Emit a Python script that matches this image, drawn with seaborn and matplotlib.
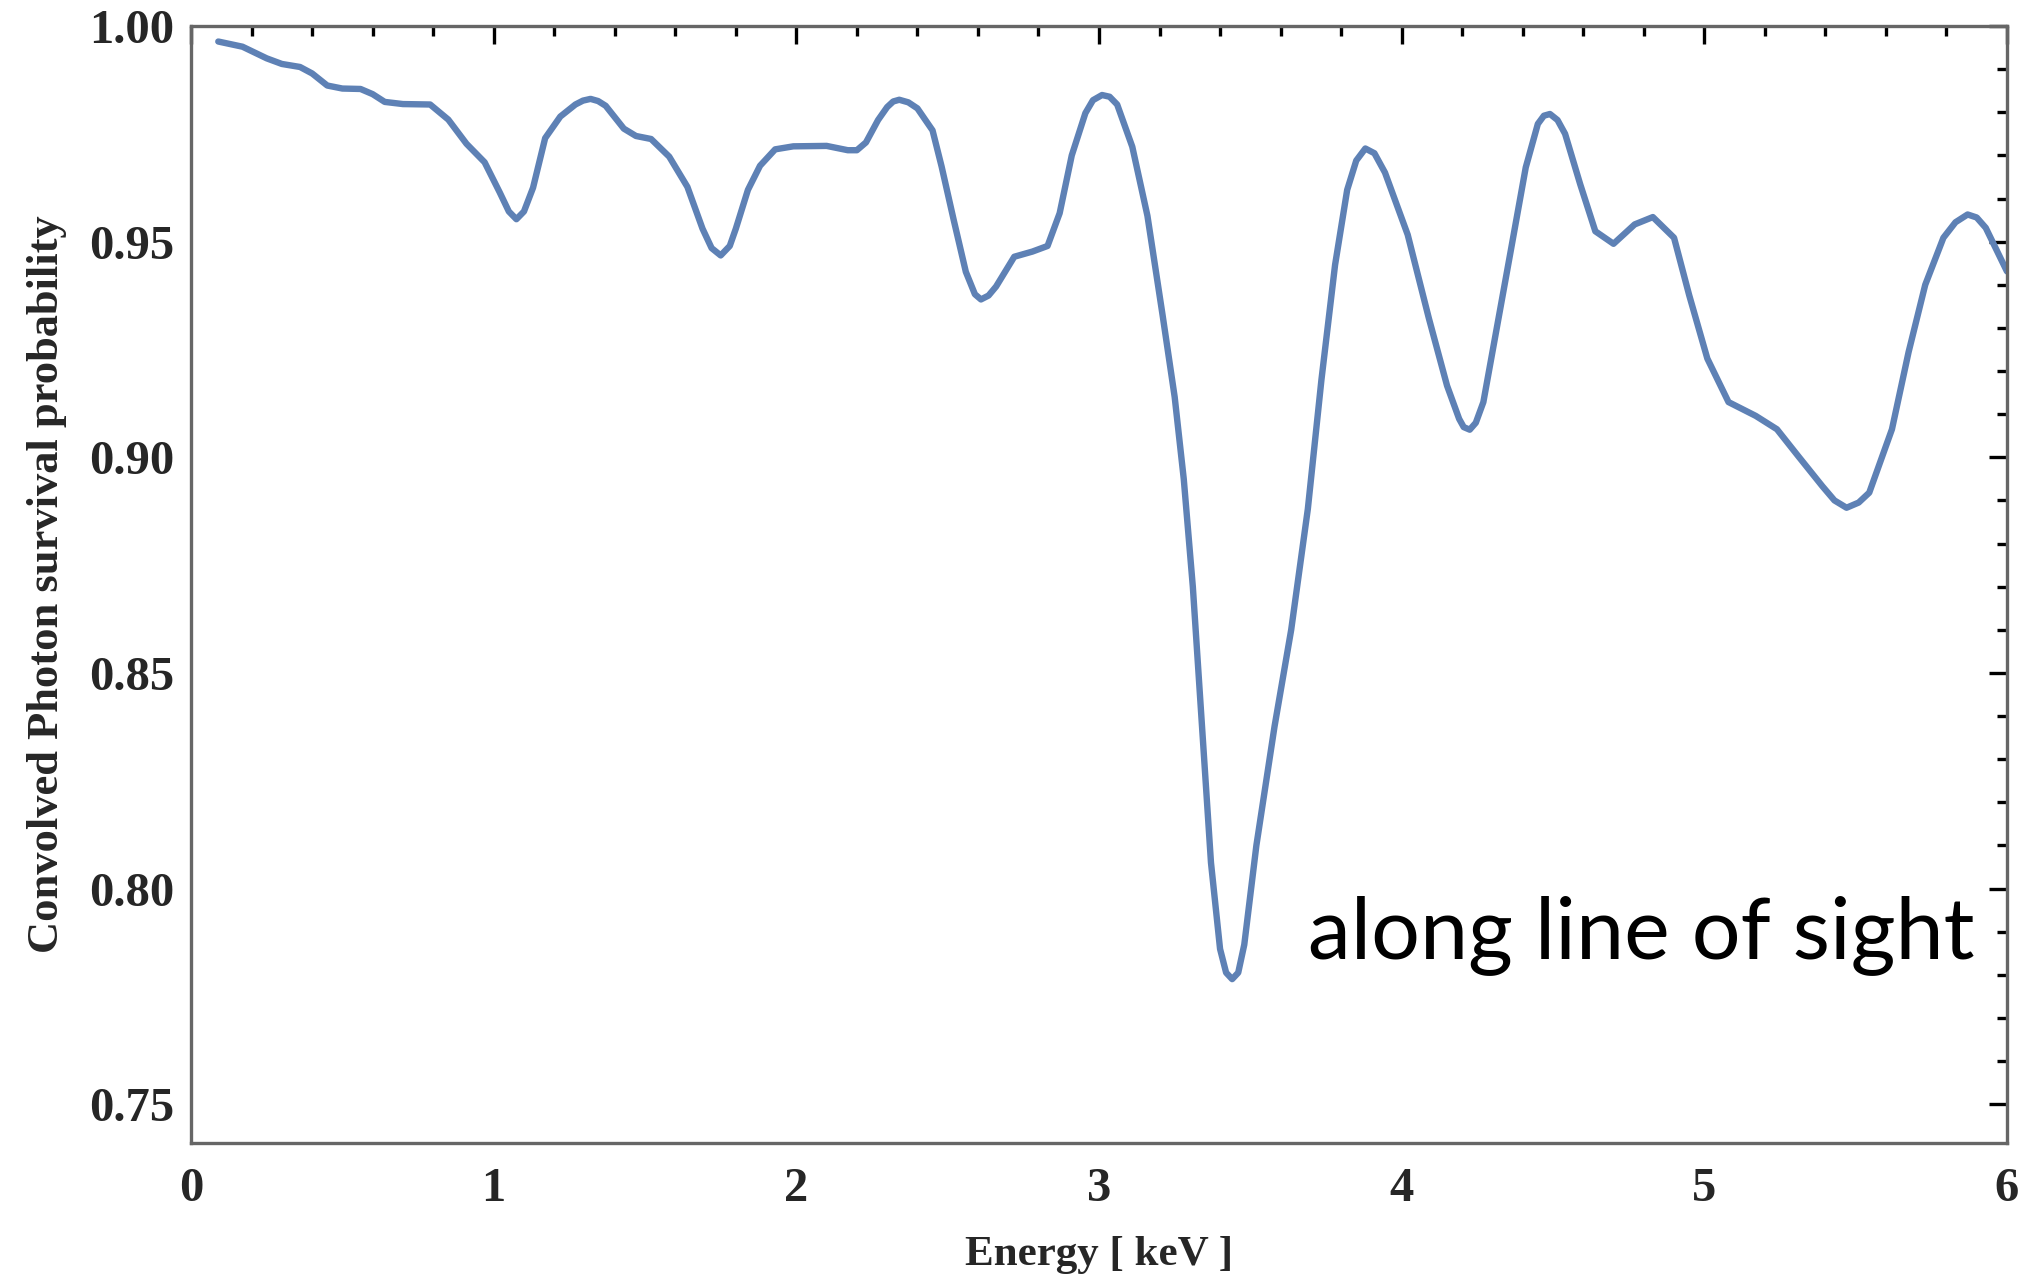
import numpy as np
import pandas as pd
import matplotlib
matplotlib.use("Agg")
import matplotlib.pyplot as plt
from matplotlib.ticker import MultipleLocator, FormatStrFormatter
import seaborn as sns

# ---- data ----
energy_kev = [0.09, 0.17, 0.25, 0.30, 0.36, 0.40, 0.45, 0.50, 0.56, 0.60, 0.64, 0.70, 0.79,
              0.85, 0.91, 0.97, 1.02, 1.05, 1.075, 1.10, 1.13, 1.17, 1.22, 1.27, 1.295, 1.32,
              1.345, 1.37, 1.43, 1.47, 1.52, 1.58, 1.64, 1.69, 1.72, 1.75, 1.78, 1.80, 1.84,
              1.88, 1.93, 1.99, 2.10, 2.17, 2.20, 2.23, 2.27, 2.30, 2.32, 2.34, 2.37, 2.40,
              2.45, 2.48, 2.52, 2.56, 2.59, 2.61, 2.635, 2.66, 2.72, 2.78, 2.83, 2.87, 2.91,
              2.955, 2.98, 3.01, 3.035, 3.06, 3.11, 3.16, 3.21, 3.25, 3.28, 3.31, 3.34, 3.37,
              3.40, 3.42, 3.44, 3.46, 3.48, 3.52, 3.58, 3.635, 3.69, 3.735, 3.78, 3.82, 3.85,
              3.88, 3.91, 3.945, 4.02, 4.09, 4.15, 4.19, 4.205, 4.225, 4.245, 4.27, 4.31, 4.36,
              4.41, 4.45, 4.47, 4.49, 4.515, 4.54, 4.59, 4.64, 4.70, 4.77, 4.83, 4.90, 4.95,
              5.01, 5.08, 5.17, 5.24, 5.31, 5.39, 5.43, 5.47, 5.51, 5.545, 5.62, 5.675, 5.73,
              5.79, 5.83, 5.87, 5.90, 5.93, 6.00]
survival_prob = [0.9964, 0.9952, 0.9925, 0.9912, 0.9905, 0.9890, 0.9862, 0.9855, 0.9854, 0.9842,
                 0.9824, 0.9819, 0.9818, 0.9783, 0.9727, 0.9684, 0.9614, 0.9570, 0.9552, 0.9570,
                 0.9625, 0.9740, 0.9790, 0.9818, 0.9827, 0.9831, 0.9826, 0.9815, 0.9762, 0.9745,
                 0.9738, 0.9697, 0.9627, 0.9530, 0.9485, 0.9468, 0.9490, 0.9530, 0.9620, 0.9676,
                 0.9714, 0.9721, 0.9722, 0.9712, 0.9712, 0.9730, 0.9782, 0.9812, 0.9825, 0.9829,
                 0.9823, 0.9809, 0.9758, 0.9674, 0.9550, 0.9430, 0.9378, 0.9366, 0.9375, 0.9396,
                 0.9465, 0.9477, 0.9490, 0.9566, 0.9700, 0.9798, 0.9828, 0.9840, 0.9836, 0.9818,
                 0.9720, 0.9560, 0.9330, 0.9140, 0.8950, 0.8700, 0.8380, 0.8060, 0.7860, 0.7805,
                 0.7790, 0.7805, 0.7870, 0.8100, 0.8376, 0.8600, 0.8880, 0.9180, 0.9446, 0.9620,
                 0.9688, 0.9716, 0.9705, 0.9660, 0.9516, 0.9322, 0.9166, 0.9089, 0.9070, 0.9064,
                 0.9080, 0.9128, 0.9283, 0.9477, 0.9672, 0.9773, 0.9792, 0.9796, 0.9782, 0.9750,
                 0.9633, 0.9524, 0.9495, 0.9540, 0.9557, 0.9509, 0.9376, 0.9229, 0.9128, 0.9096,
                 0.9065, 0.9003, 0.8933, 0.8900, 0.8883, 0.8895, 0.8918, 0.9065, 0.9244, 0.9400,
                 0.9509, 0.9545, 0.9563, 0.9556, 0.9532, 0.9431]

x_label = "Energy [ keV ]"
y_label = "Convolved Photon survival probability"
annotation = "along line of sight"

df = pd.DataFrame({"energy": energy_kev, "prob": survival_prob})

sns.set_style("white")
plt.rcParams["font.family"] = ["Liberation Serif", "DejaVu Serif"]

fig = plt.figure(figsize=(20.26, 12.81), dpi=100)
ax = fig.add_axes([0.0943, 0.1077, 0.8963, 0.872])

sns.lineplot(data=df, x="energy", y="prob", ax=ax, color="#5E81B5", linewidth=4.6,
             sort=False, estimator=None, solid_joinstyle="round", solid_capstyle="round")

ax.set_xlim(0, 6)
ax.set_ylim(0.741, 1.0)

ax.xaxis.set_major_locator(MultipleLocator(1))
ax.xaxis.set_minor_locator(MultipleLocator(0.2))
ax.yaxis.set_major_locator(MultipleLocator(0.05))
ax.yaxis.set_minor_locator(MultipleLocator(0.01))
ax.yaxis.set_major_formatter(FormatStrFormatter("%.2f"))
ax.xaxis.set_major_formatter(FormatStrFormatter("%d"))

ax.tick_params(which="both", direction="in", top=True, right=True, color="black")
ax.tick_params(which="major", length=13, width=2.4)
ax.tick_params(which="minor", length=7.5, width=2.4)
ax.tick_params(axis="y", which="major", pad=12)
ax.tick_params(axis="x", which="major", pad=17)

for lab in ax.get_xticklabels() + ax.get_yticklabels():
    lab.set_fontsize(35)
    lab.set_fontweight("bold")

for sp in ax.spines.values():
    sp.set_visible(True)
    sp.set_color("#666666")
    sp.set_linewidth(2.4)

ax.set_xlabel(x_label, fontsize=31, fontweight="bold", labelpad=18)
ax.set_ylabel(y_label, fontsize=32, fontweight="bold", labelpad=16)

ax.text(0.9824, 0.1656, annotation, transform=ax.transAxes, ha="right", va="baseline",
        fontsize=62, family=["Lato", "DejaVu Sans"], color="black")

fig.savefig("out.png", dpi=100, facecolor="white")
